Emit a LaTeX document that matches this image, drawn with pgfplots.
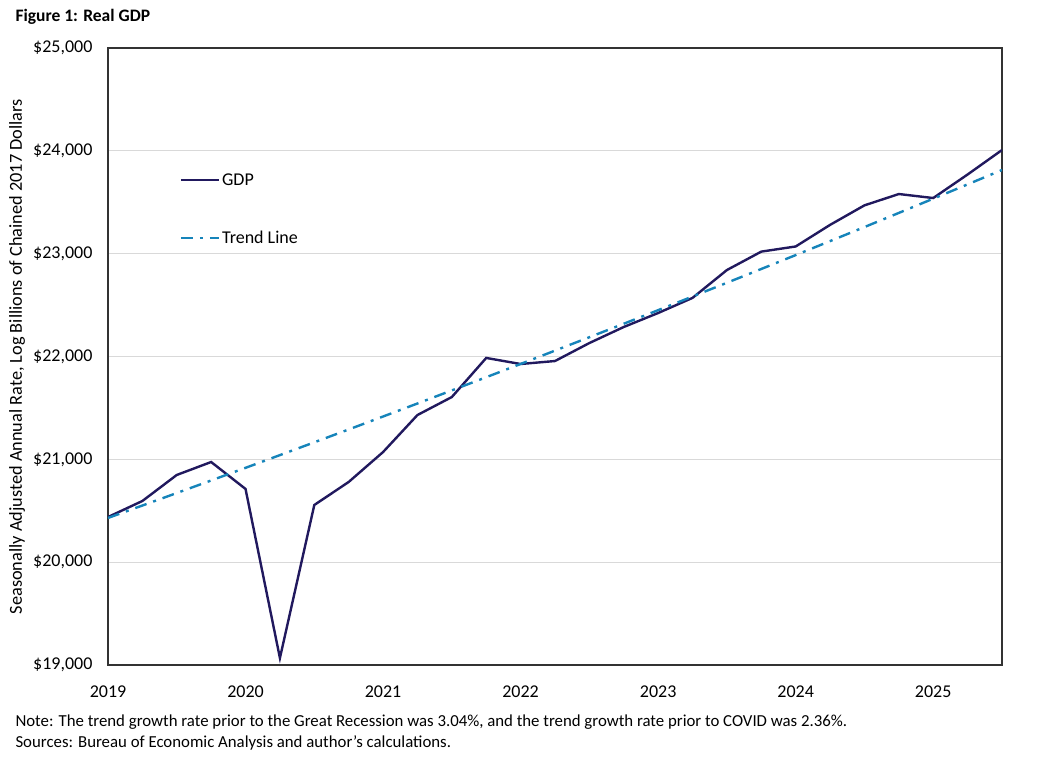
\documentclass[border=0pt]{standalone}
\usepackage{pgfplots}
\pgfplotsset{compat=1.18}
\usepackage{fontspec}
\setmainfont{Carlito}
\definecolor{gdpnavy}{RGB}{33,25,94}
\definecolor{trendblue}{RGB}{22,132,186}
\definecolor{gridgray}{RGB}{217,217,217}
\begin{document}
\begin{tikzpicture}
\path[use as bounding box] (-108pt,-93pt) rectangle (936pt,665pt);
\begin{axis}[
  at={(0,0)}, anchor=south west,
  scale only axis,
  width=894pt, height=617pt,
  xmin=2019, xmax=2025.5,
  ymin=19000, ymax=25000,
  scaled ticks=false,
  xtick={2019,2020,2021,2022,2023,2024,2025},
  xticklabels={2019,2020,2021,2022,2023,2024,2025},
  ytick={19000,20000,21000,22000,23000,24000,25000},
  yticklabels={{\$19,000},{\$20,000},{\$21,000},{\$22,000},{\$23,000},{\$24,000},{\$25,000}},
  major tick length=0pt,
  ymajorgrids,
  grid style={draw=gridgray, line width=1.2pt},
  axis line style={draw=black!80, line width=1.3pt},
  tick label style={font=\fontsize{18}{21}\selectfont},
  /pgf/number format/assume math mode=true,
  yticklabel style={xshift=-12pt},
  xticklabel style={yshift=-17pt},
  ylabel={Seasonally Adjusted Annual Rate, Log Billions of Chained 2017 Dollars},
  ylabel style={at={(axis description cs:-0.1018,0.5)}, anchor=center, font=\fontsize{18.3}{21}\selectfont},
  legend style={draw=none, fill=none, at={(axis description cs:0.08,0.80)}, anchor=north west,
    font=\fontsize{18}{21}\selectfont, row sep=40pt, inner sep=0pt},
  legend cell align=left,
  legend image code/.code={\draw[#1] (0pt,0pt) -- (38pt,0pt);},
]
\addplot[gdpnavy, line width=2.4pt] coordinates {
(2019.00,20439) (2019.25,20595) (2019.50,20848) (2019.75,20974)
(2020.00,20712) (2020.25,19068) (2020.50,20556) (2020.75,20780)
(2021.00,21071) (2021.25,21431) (2021.50,21606) (2021.75,21986)
(2022.00,21927) (2022.25,21956) (2022.50,22131) (2022.75,22287)
(2023.00,22423) (2023.25,22570) (2023.50,22841) (2023.75,23020)
(2024.00,23070) (2024.25,23280) (2024.50,23470) (2024.75,23580)
(2025.00,23541) (2025.25,23770) (2025.50,24008)
};
\addlegendentry{GDP}
\addplot[trendblue, line width=2.4pt, dash pattern=on 12pt off 7pt on 3pt off 7pt] coordinates {
(2019.00,20430.0) (2019.25,20550.8) (2019.50,20672.3) (2019.75,20794.5)
(2020.00,20917.4) (2020.25,21041.1) (2020.50,21165.5) (2020.75,21290.6)
(2021.00,21416.5) (2021.25,21543.1) (2021.50,21670.5) (2021.75,21798.6)
(2022.00,21927.5) (2022.25,22057.1) (2022.50,22187.5) (2022.75,22318.7)
(2023.00,22450.6) (2023.25,22583.4) (2023.50,22716.9) (2023.75,22851.2)
(2024.00,22986.3) (2024.25,23122.2) (2024.50,23258.9) (2024.75,23396.4)
(2025.00,23534.7) (2025.25,23673.9) (2025.50,23813.8)
};
\addlegendentry{Trend Line}
\end{axis}
\node[anchor=base west, font=\bfseries\fontsize{17.5}{20}\selectfont] at (-96pt,643pt) {Figure 1: Real GDP};
\node[anchor=base west, font=\fontsize{16.8}{20}\selectfont] at (-96pt,-61pt) {Note: The trend growth rate prior to the Great Recession was 3.04\%, and the trend growth rate prior to COVID was 2.36\%.};
\node[anchor=base west, font=\fontsize{16.8}{20}\selectfont] at (-96pt,-82pt) {Sources: Bureau of Economic Analysis and author's calculations.};
\end{tikzpicture}
\end{document}
